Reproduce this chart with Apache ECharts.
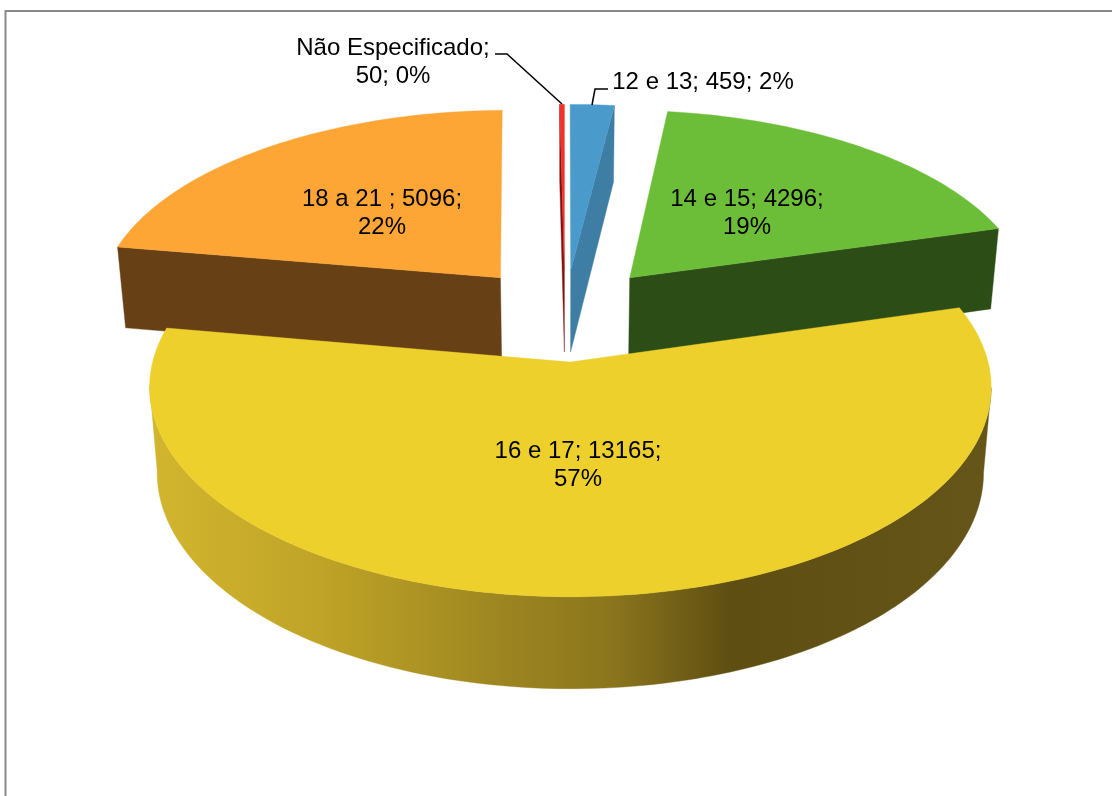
<!DOCTYPE html>
<html>
<head>
<meta charset="utf-8">
<title>Pizza 3D</title>
<script src="https://cdn.jsdelivr.net/npm/echarts@6/dist/echarts.min.js"></script>
<style>
html, body { margin: 0; padding: 0; background: #fff; }
#chart { width: 1112px; height: 796px; }
</style>
</head>
<body>
<div id="chart"></div>
<script>
/* dados */
var names = ['12 e 13', '14 e 15', '16 e 17', '18 a 21 ', 'Não Especificado'];
var values = [459, 4296, 13165, 5096, 50];
var percents = [2, 19, 57, 22, 0];
var afterName = [' ', ' ', ' ', ' ', '\n'];
var afterValue = [' ', '\n', '\n', '\n', ' '];

/* aparencia de cada fatia, na ordem dos dados */
var topColors = ['#4A9BCB', '#6CBE38', '#EDD02B', '#FDA635', '#F5302A'];
var sideColors = ['#3E7EA5', '#2C4D16', '#5F4F12', '#684015', '#7A1310'];
var explode = [0.23, 0.25, 0.24, 0.25, 0.23];
var labelPos = [[703, 82], [747, 213], [578, 465], [382, 213], [393, 62]];
var drawOrder = [4, 0, 3, 1, 2]; // de tras para frente

/* projecao */
var CX = 565, CY = 314, RX = 406, RY = 195, PERSP = 0.117, DEPTH = 83, SHRINK = 0.982;

var total = values.reduce(function(a, b) { return a + b; }, 0);

function project(x, z, bottom) {
	var s = 1 / (1 + PERSP * z);
	var px = RX * x * s;
	var py = -RY * z * s;
	if (bottom) {
		return [CX + px * SHRINK, CY + py * SHRINK + DEPTH * s];
	}
	return [CX + px, CY + py];
}

function sliceAngles(i) {
	var before = 0;
	for (var k = 0; k < i; k++) before += values[k];
	return [before / total * Math.PI * 2, (before + values[i]) / total * Math.PI * 2];
}

function rimPoints(i, bottom) {
	var ang = sliceAngles(i);
	var mid = (ang[0] + ang[1]) / 2;
	var ox = explode[i] * Math.sin(mid), oz = explode[i] * Math.cos(mid);
	var steps = Math.max(2, Math.ceil((ang[1] - ang[0]) / 0.02));
	var pts = [];
	for (var n = 0; n <= steps; n++) {
		var t = ang[0] + (ang[1] - ang[0]) * n / steps;
		pts.push(project(ox + Math.sin(t), oz + Math.cos(t), bottom));
	}
	return { pts: pts, apex: project(ox, oz, bottom) };
}

/* trecho do arco entre o ponto mais a direita e o mais a esquerda */
function frontArc(pts) {
	var right = 0, left = 0;
	pts.forEach(function(p, n) {
		if (p[0] > pts[right][0]) right = n;
		if (p[0] < pts[left][0]) left = n;
	});
	return pts.slice(right, left + 1);
}

function poly(points, fill, z2) {
	return {
		type: 'polygon',
		z2: z2,
		shape: { points: points },
		style: { fill: fill, stroke: fill, lineWidth: 0.4 }
	};
}

function renderSlice(params, api) {
	var i = api.value(0);
	var ang = sliceAngles(i);
	var top = rimPoints(i, false);
	var bot = rimPoints(i, true);
	var side = sideColors[i];
	var children = [];
	var last = top.pts.length - 1;

	// so as faces de corte viradas para quem olha
	if (Math.sin(ang[0]) < 0) {
		children.push(poly([top.apex, top.pts[0], bot.pts[0], bot.apex], side, 1));
	}
	if (Math.sin(ang[1]) > 0.001) {
		children.push(poly([top.apex, top.pts[last], bot.pts[last], bot.apex], side, 1));
	}

	// parede curva, so a fatia que passa pela frente tem
	if (ang[0] < Math.PI / 2 && ang[1] > Math.PI * 1.5) {
		var wallFill = {
			type: 'linear', global: true, x: 155, y: 0, x2: 990, y2: 0,
			colorStops: [
				{ offset: 0, color: '#D2B52E' },
				{ offset: 0.2, color: '#BFA327' },
				{ offset: 0.42, color: '#9C8520' },
				{ offset: 0.55, color: '#8A751C' },
				{ offset: 0.69, color: '#5E4E12' },
				{ offset: 1, color: '#655518' }
			]
		};
		children.push(poly(frontArc(top.pts).concat(frontArc(bot.pts).reverse()), wallFill, 2));
	}
	children.push(poly([top.apex].concat(top.pts), topColors[i], 3));

	children.push({
		type: 'text',
		z2: 10,
		style: {
			x: labelPos[i][0],
			y: labelPos[i][1],
			text: names[i] + ';' + afterName[i] + values[i] + ';' + afterValue[i] + percents[i] + '%',
			fill: '#000',
			font: '24px "Liberation Sans", Arial, sans-serif',
			lineHeight: 28,
			align: 'center',
			verticalAlign: 'middle'
		}
	});
	return { type: 'group', children: children };
}

var myChart = echarts.init(document.getElementById('chart'), null, { renderer: 'canvas' });
myChart.setOption({
	backgroundColor: '#fff',
	animation: false,
	graphic: [
		{ type: 'polyline', shape: { points: [[5.5, 796], [5.5, 11], [1112, 11]] }, style: { fill: null, stroke: '#898989', lineWidth: 2 } },
		{ type: 'polyline', z: 20, shape: { points: [[495, 54], [507, 54], [562, 104]] }, style: { fill: null, stroke: '#000', lineWidth: 1.5 } },
		{ type: 'polyline', z: 20, shape: { points: [[608, 89], [595, 89], [592, 105]] }, style: { fill: null, stroke: '#000', lineWidth: 1.5 } }
	],
	series: [{
		type: 'custom',
		coordinateSystem: 'none',
		silent: true,
		renderItem: renderSlice,
		data: drawOrder.map(function(i) { return [i, values[i]]; })
	}]
});
</script>
</body>
</html>
